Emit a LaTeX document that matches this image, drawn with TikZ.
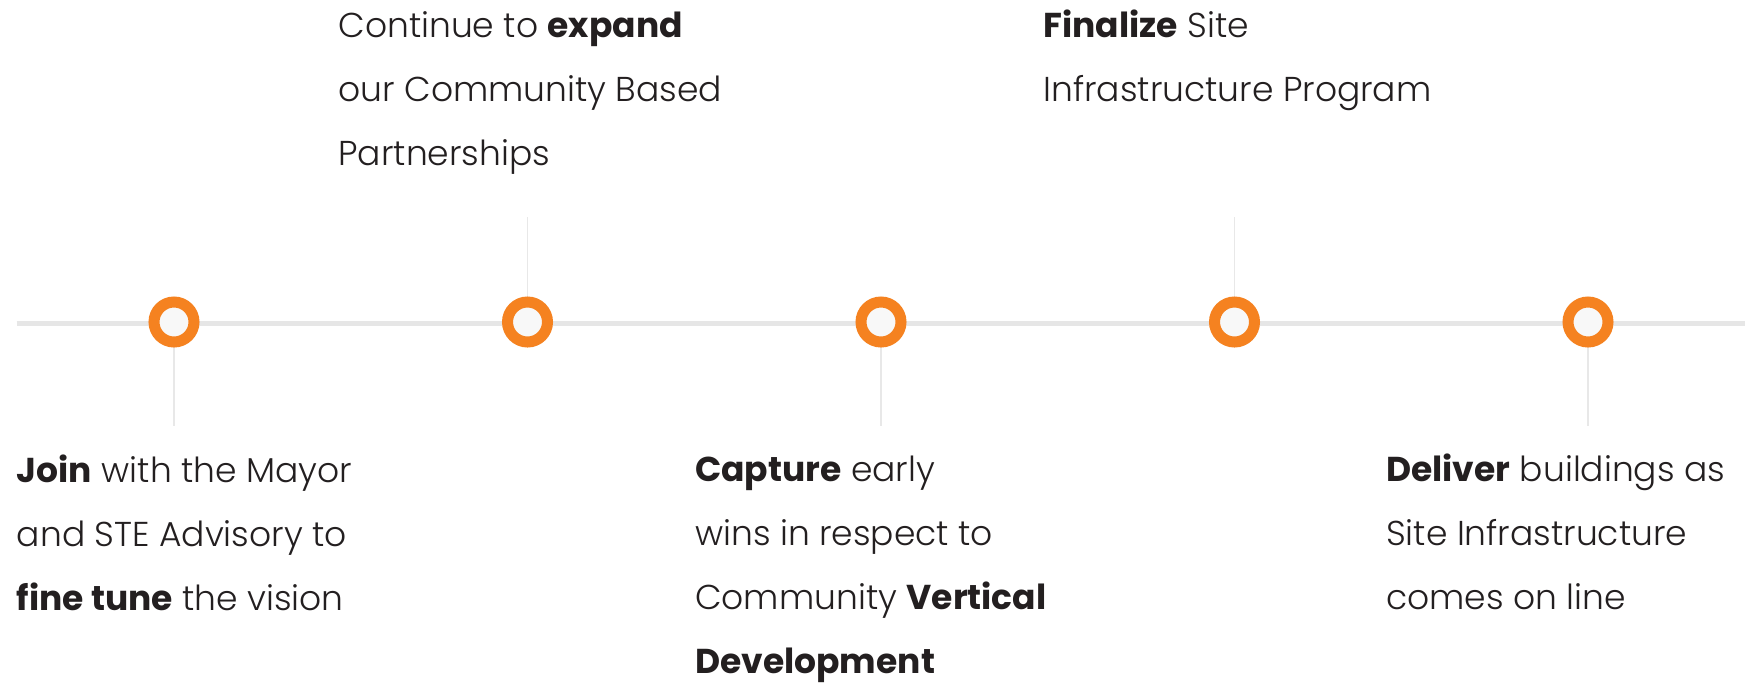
\documentclass[tikz,border=0pt]{standalone}
\usepackage{fontspec}
\setmainfont{Poppins}[UprightFont={* Light}, BoldFont={* Bold}]
\definecolor{ringorange}{HTML}{F58220}
\definecolor{trackgray}{HTML}{E6E6E6}
\definecolor{stemgray}{HTML}{E8E8E8}
\definecolor{dotfill}{HTML}{F8F8F8}
\definecolor{txt}{HTML}{231F20}
\tikzset{
  track/.style={draw=trackgray, line width=5pt},
  stem/.style={draw=stemgray, line width=1.4pt},
  ring/.style={circle, draw=ringorange, line width=11pt, fill=dotfill, minimum size=40pt, inner sep=0pt},
  label/.style={anchor=base west, inner sep=0pt, align=left, text=txt, font=\fontsize{34.5}{64}\selectfont}
}
\begin{document}
\begin{tikzpicture}[x=1pt,y=-1pt]
\useasboundingbox[fill=white] (0,0) rectangle (1745,683);
\coordinate (l0) at (16.7,323);
\coordinate (l1) at (1745,323);
\draw[track] (l0) -- (l1);
\coordinate (s1) at (174,426);
\coordinate (s2) at (527.5,217);
\coordinate (s3) at (881,426);
\coordinate (s4) at (1234.5,217);
\coordinate (s5) at (1588,426);
\coordinate (p1) at (174,322);
\coordinate (p2) at (527.5,322);
\coordinate (p3) at (881,322);
\coordinate (p4) at (1234.5,322);
\coordinate (p5) at (1588,322);
\foreach \i in {1,...,5} {\draw[stem] (p\i) -- (s\i);}
\foreach \i in {1,...,5} {\node[ring] (m\i) at (p\i) {};}
% anchor = baseline of the last line
\node[label] (t1) at (16.7,610.3) {\textbf{Join} with the Mayor\\and STE Advisory to\\\textbf{fine tune} the vision};
\node[label] (t2) at (338.3,165.3) {Continue to \textbf{expand}\\our Community Based\\Partnerships};
\node[label] (t3) at (695,673.7) {\textbf{Capture} early\\wins in respect to\\Community \textbf{Vertical}\\\textbf{Development}};
\node[label] (t4) at (1043.3,101.3) {\textbf{Finalize} Site\\Infrastructure Program};
\node[label] (t5) at (1386,609.7) {\textbf{Deliver} buildings as\\Site Infrastructure\\comes on line};
\end{tikzpicture}
\end{document}
